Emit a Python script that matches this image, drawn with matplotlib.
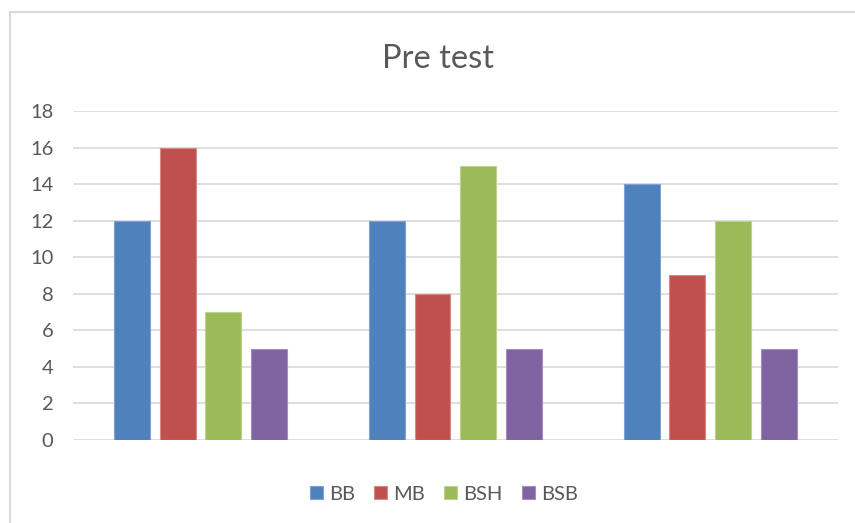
import numpy as np
import matplotlib.pyplot as plt
from matplotlib.patches import Rectangle

# datos
grupos = ["1", "2", "3"]
series = ["BB", "MB", "BSH", "BSB"]
bb = [12, 12, 14]
mb = [16, 8, 9]
bsh = [7, 15, 12]
bsb = [5, 5, 5]
yticks = [0, 2, 4, 6, 8, 10, 12, 14, 16, 18]

valores = [bb, mb, bsh, bsb]
colores = ["#4F81BD", "#C0504D", "#9BBB59", "#8064A2"]
bordes = ["#7FA2D3", "#D58A88", "#BCD38F", "#A38DC0"]
gris = "#595959"

plt.rcParams['font.family'] = ['Lato', 'DejaVu Sans']

fig = plt.figure(figsize=(8.55, 5.23), dpi=100)
ax = fig.add_axes([0.0854, 0.1587, 0.8946, 0.6291])

x = np.arange(len(grupos))
ancho = 0.141
paso = 0.18
for i, (nombre, vals) in enumerate(zip(series, valores)):
    ax.bar(x + (i - 1.5) * paso, vals, width=ancho, color=colores[i],
           edgecolor=bordes[i], linewidth=0.8, label=nombre, zorder=3)

ax.set_xlim(-0.5, 2.5)
ax.set_ylim(0, 18)
ax.set_yticks(yticks)
ax.set_xticks([])
ax.tick_params(axis='y', length=0, pad=14, labelsize=14.5, labelcolor=gris)
ax.grid(axis='y', color="#D9D9D9", linewidth=1.2, zorder=0)
for s in ax.spines.values():
    s.set_visible(False)

fig.text(0.512, 0.888, "Pre test", ha='center', va='center', fontsize=23.5, color=gris)

ax.legend(loc='center', bbox_to_anchor=(0.485, -0.165), ncol=4, frameon=False,
          fontsize=14.5, labelcolor=gris, handlelength=0.65, handleheight=0.65,
          handletextpad=0.3, columnspacing=0.95)

# borde del gráfico
fig.patches.append(Rectangle((10 / 855, -0.1), 1.2, 1 - 12 / 523 + 0.1,
                             transform=fig.transFigure, fill=False,
                             edgecolor="#D9D9D9", linewidth=1.5))

fig.savefig("out.png", dpi=100)
